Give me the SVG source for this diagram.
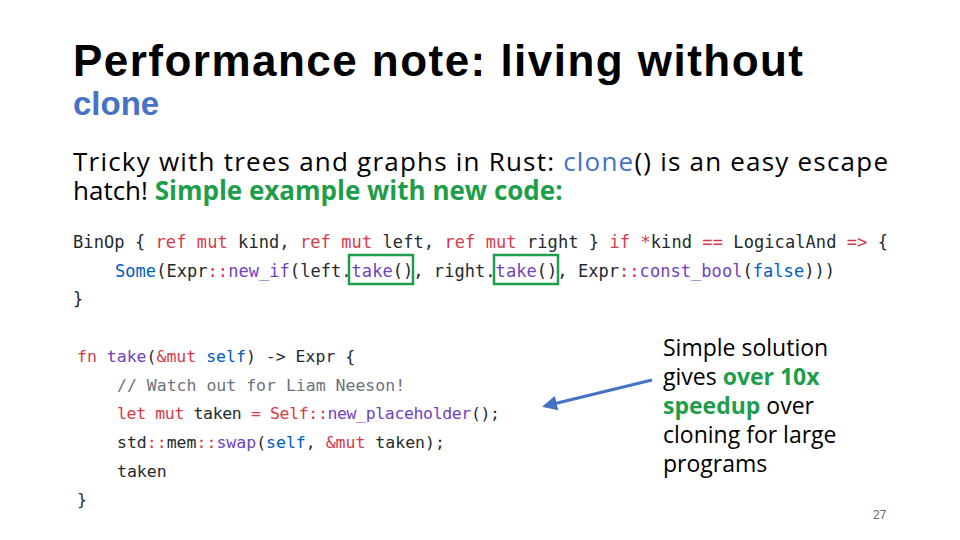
<svg xmlns="http://www.w3.org/2000/svg" width="960" height="540" viewBox="0 0 960 540">
<style>
.t{font-family:"Liberation Sans",Arial,sans-serif;fill:#000}
.b{font-family:"Open Sans","Liberation Sans",sans-serif;fill:#000}
.c{font-family:"DejaVu Sans Mono",monospace;fill:#24292e}
.k{fill:#d73a49}.f{fill:#6f42c1}.v{fill:#005cc5}.m{fill:#6a737d}
.g{fill:#1e9e4a;font-weight:bold}
</style>
<defs><marker id="ah" viewBox="0 0 10 10" refX="8" refY="5" markerWidth="5" markerHeight="5" orient="auto"><path d="M0,0L10,5L0,10z" fill="#4472c4"/></marker></defs>
<rect width="960" height="540" fill="#fff"/>
<text class="t" x="73" y="76" font-size="44" font-weight="bold" textLength="730">Performance note: living without</text>
<text class="t" x="73" y="115" font-size="33" style="fill:#4472c4" font-weight="bold">clone</text>
<text class="b" x="73" y="171" font-size="26" textLength="815">Tricky with trees and graphs in Rust: <tspan style="fill:#4472c4">clone</tspan>() is an easy escape</text>
<text class="b" x="73" y="200" font-size="26">hatch! <tspan class="g">Simple example with new code:</tspan></text>
<g id="code1" font-size="17">
<text class="c" x="73" y="248" textLength="815">BinOp { <tspan class="k">ref mut</tspan> kind, <tspan class="k">ref mut</tspan> left, <tspan class="k">ref mut</tspan> right } <tspan class="k">if *</tspan>kind <tspan class="k">==</tspan> LogicalAnd <tspan class="k">=&gt;</tspan> {</text>
<text class="c" x="115" y="277" textLength="720"><tspan class="v">Some</tspan>(Expr<tspan class="k">::</tspan><tspan class="f">new_if</tspan>(left.<tspan class="f">take</tspan>(), right.<tspan class="f">take</tspan>(), Expr<tspan class="k">::</tspan><tspan class="f">const_bool</tspan>(<tspan class="v">false</tspan>)))</text>
<text class="c" x="73" y="305">}</text>
<rect x="349" y="255" width="64" height="29" fill="none" stroke="#1e9e4a" stroke-width="2.5"/>
<rect x="494" y="255" width="64" height="29" fill="none" stroke="#1e9e4a" stroke-width="2.5"/>
</g>
<g id="code2" font-size="16.5">
<text class="c" x="77" y="362"><tspan class="k">fn</tspan> <tspan class="f">take</tspan>(<tspan class="k">&amp;mut</tspan> <tspan class="v">self</tspan>) -&gt; Expr {</text>
<text class="c m" x="117" y="391">// Watch out for Liam Neeson!</text>
<text class="c" x="117" y="419" textLength="383"><tspan class="k">let mut</tspan> taken <tspan class="k">=</tspan> <tspan class="k">Self::</tspan><tspan class="f">new_placeholder</tspan>();</text>
<text class="c" x="117" y="448">std<tspan class="k">::</tspan>mem<tspan class="k">::</tspan><tspan class="f">swap</tspan>(<tspan class="v">self</tspan>, <tspan class="k">&amp;mut</tspan> taken);</text>
<text class="c" x="117" y="477">taken</text>
<text class="c" x="77" y="505">}</text>
</g>
<g id="connectors"><line x1="652" y1="380" x2="545" y2="406" stroke="#4472c4" stroke-width="3" marker-end="url(#ah)"/></g>
<g id="note" font-size="23">
<text class="b" x="663" y="356">Simple solution</text>
<text class="b" x="663" y="385">gives <tspan class="g">over 10x</tspan></text>
<text class="b" x="663" y="414"><tspan class="g">speedup</tspan> over</text>
<text class="b" x="663" y="443">cloning for large</text>
<text class="b" x="663" y="472">programs</text>
</g>
<text class="t" x="873" y="519" font-size="12" style="fill:#666">27</text>
</svg>
